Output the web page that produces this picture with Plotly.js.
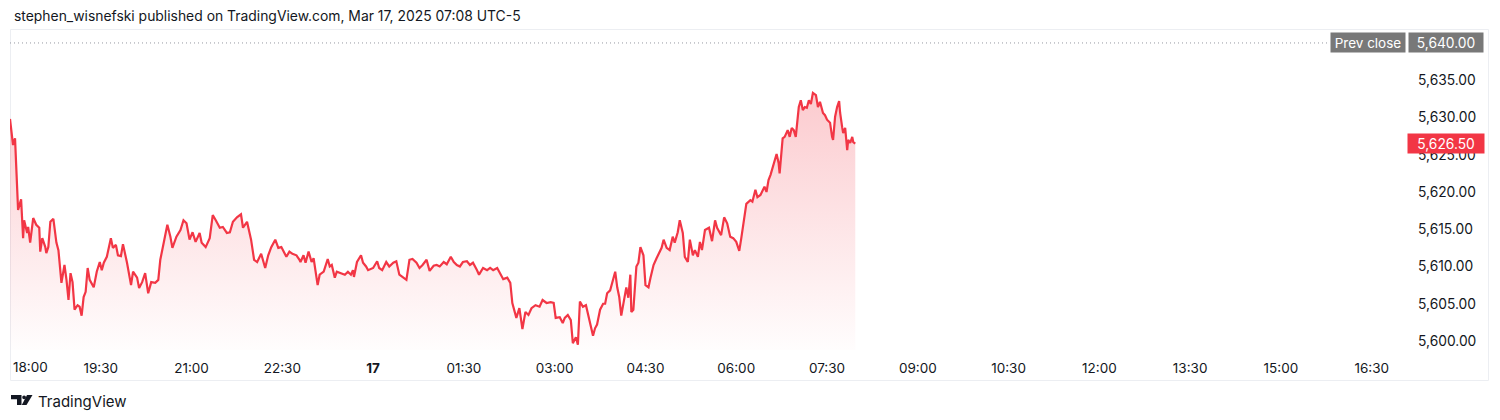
<!DOCTYPE html>
<html>
<head>
<meta charset="utf-8">
<script src="https://cdn.plot.ly/plotly-3.0.1.min.js"></script>
<style>
  html, body { margin: 0; padding: 0; background: #ffffff; }
  #chart { width: 1500px; height: 420px; }
</style>
</head>
<body>
<div id="chart"></div>
<script>
// ---- Data ----
const times = [
  "18:00","18:03","18:05","18:07","18:08","18:11","18:13","18:14","18:17","18:18",
  "18:20","18:23","18:26","18:29","18:30","18:32","18:35","18:36","18:38","18:40",
  "18:43","18:46","18:48","18:51","18:54","18:56","18:58","19:00","19:02","19:04",
  "19:07","19:09","19:11","19:13","19:15","19:17","19:19","19:23","19:26","19:29",
  "19:31","19:33","19:36","19:40","19:42","19:45","19:47","19:50","19:52","19:56",
  "20:00","20:02","20:06","20:08","20:11","20:14","20:17","20:20","20:24","20:27",
  "20:29","20:33","20:36","20:39","20:41","20:45","20:49","20:52","20:55","20:58",
  "21:01","21:04","21:08","21:10","21:14","21:18","21:21","21:24","21:28","21:31",
  "21:35","21:38","21:41","21:45","21:49","21:51","21:55","21:59","22:02","22:05",
  "22:09","22:13","22:16","22:19","22:23","22:26","22:29","22:34","22:37","22:40",
  "22:44","22:47","22:48","22:51","22:53","22:56","22:59","23:01","23:05","23:07",
  "23:11","23:15","23:17","23:19","23:22","23:24","23:29","23:32","23:35","23:38",
  "23:40","23:41","23:44","23:48","23:50","23:53","23:55","00:00","00:04","00:06",
  "00:09","00:13","00:16","00:20","00:23","00:26","00:29","00:33","00:36","00:39",
  "00:43","00:46","00:49","00:53","00:56","01:00","01:03","01:06","01:10","01:13",
  "01:17","01:20","01:23","01:26","01:29","01:33","01:36","01:39","01:43","01:45",
  "01:49","01:53","01:56","01:59","02:03","02:06","02:09","02:13","02:16","02:18",
  "02:22","02:25","02:28","02:31","02:34","02:37","02:41","02:45","02:48","02:52",
  "02:56","02:59","03:01","03:05","03:08","03:10","03:13","03:16","03:18","03:21",
  "03:23","03:25","03:28","03:31","03:33","03:36","03:38","03:40","03:42","03:45",
  "03:48","03:50","03:52","03:55","03:58","04:00","04:02","04:04","04:06","04:09",
  "04:11","04:13","04:15","04:16","04:18","04:21","04:23","04:25","04:28","04:30",
  "04:33","04:35","04:38","04:41","04:44","04:46","04:48","04:51","04:54","04:57",
  "04:59","05:02","05:04","05:07","05:09","05:12","05:14","05:17","05:19","05:22",
  "05:24","05:26","05:29","05:33","05:36","05:39","05:41","05:45","05:48","05:51",
  "05:54","05:57","06:00","06:03","06:05","06:08","06:10","06:14","06:16","06:19",
  "06:21","06:24","06:28","06:30","06:32","06:34","06:36","06:38","06:40","06:42",
  "06:43","06:46","06:48","06:51","06:53","06:55","06:57","06:59","07:02","07:04",
  "07:06","07:08","07:10","07:12","07:14","07:16","07:19","07:21","07:23","07:26",
  "07:28","07:30","07:33","07:35","07:36","07:38","07:40","07:42","07:43","07:45",
  "07:46","07:48","07:50","07:51","07:53","07:55","07:56","07:58"
];
const prices = [
  5629.8,5626.3,5627.2,5621.2,5617.6,5619.0,5613.8,5616.2,5614.5,5615.3,
  5613.2,5616.5,5615.6,5615.2,5612.0,5613.8,5612.6,5611.8,5612.6,5616.0,
  5616.4,5613.2,5612.2,5607.8,5610.2,5608.2,5605.5,5609.1,5607.9,5604.2,
  5604.8,5604.6,5603.4,5605.9,5606.6,5609.8,5608.2,5607.2,5609.3,5610.6,
  5609.5,5610.5,5611.3,5613.8,5612.5,5612.9,5611.5,5611.4,5613.0,5610.5,
  5607.5,5609.3,5608.5,5607.1,5607.9,5609.1,5606.4,5607.9,5607.8,5608.2,
  5610.9,5613.6,5615.6,5614.0,5612.5,5614.0,5614.9,5616.2,5615.8,5613.6,
  5614.6,5613.3,5614.5,5613.2,5612.6,5613.8,5616.9,5616.2,5615.2,5615.3,
  5614.5,5614.6,5616.0,5616.6,5617.0,5615.2,5616.0,5613.6,5610.9,5610.6,
  5611.7,5609.8,5611.5,5612.6,5613.6,5612.5,5612.6,5611.3,5612.0,5611.7,
  5611.5,5610.9,5610.6,5611.5,5610.5,5612.0,5610.6,5611.1,5607.5,5608.9,
  5609.3,5611.0,5610.0,5610.2,5608.5,5609.3,5609.1,5608.9,5609.3,5608.9,
  5609.5,5608.6,5610.6,5611.5,5610.5,5610.0,5609.5,5609.8,5610.7,5609.8,
  5609.5,5610.6,5610.0,5610.5,5610.7,5608.9,5608.6,5608.2,5610.9,5611.0,
  5610.5,5609.8,5610.2,5610.9,5609.4,5610.1,5610.2,5610.0,5610.6,5610.3,
  5611.3,5610.6,5610.2,5610.0,5610.6,5610.7,5610.2,5610.5,5609.5,5608.9,
  5609.8,5609.5,5609.8,5609.5,5609.8,5609.1,5608.3,5608.5,5607.8,5605.1,
  5603.1,5604.4,5601.6,5603.9,5603.5,5604.4,5604.8,5604.6,5605.5,5605.1,
  5605.2,5605.1,5603.1,5603.2,5602.4,5603.1,5603.5,5602.8,5599.7,5600.5,
  5599.5,5605.3,5604.6,5604.8,5603.5,5601.7,5600.7,5601.7,5602.2,5604.2,
  5605.0,5605.0,5606.4,5606.8,5608.2,5609.3,5607.2,5605.9,5603.4,5605.9,
  5607.2,5605.8,5608.9,5603.9,5604.2,5610.0,5610.5,5612.6,5611.5,5607.5,
  5607.2,5608.5,5610.2,5611.1,5612.0,5612.5,5613.6,5612.5,5612.2,5614.0,
  5613.2,5614.6,5616.2,5614.5,5611.3,5610.6,5613.6,5611.5,5612.2,5611.3,
  5613.3,5612.2,5614.9,5615.2,5613.4,5616.2,5615.2,5614.2,5616.6,5615.8,
  5614.0,5613.8,5613.3,5612.1,5613.8,5616.9,5618.4,5618.9,5618.7,5620.3,
  5619.3,5619.6,5620.7,5620.0,5621.6,5622.3,5623.2,5624.0,5625.1,5623.9,
  5622.5,5627.2,5627.4,5628.3,5627.4,5628.6,5628.3,5627.4,5631.4,5632.3,
  5631.0,5631.4,5631.3,5632.3,5631.8,5633.3,5633.0,5631.4,5632.1,5630.6,
  5630.3,5629.7,5629.3,5627.4,5627.0,5630.1,5631.4,5632.2,5630.6,5628.7,
  5627.9,5628.6,5625.6,5627.0,5626.6,5627.4,5626.7,5626.5
];
const prevClose = 5640.00;
const sessionDay1 = "2025-03-16";
const sessionDay2 = "2025-03-17";
const xTickTimes = ["19:30","21:00","22:30","00:00","01:30","03:00","04:30","06:00","07:30","09:00","10:30","12:00","13:30","15:00","16:30"];
const xTickLabels = ["19:30","21:00","22:30","<b>17</b>","01:30","03:00","04:30","06:00","07:30","09:00","10:30","12:00","13:30","15:00","16:30"];
const yTickValues = [5600, 5605, 5610, 5615, 5620, 5625, 5630, 5635, 5640];
const headerText = "stephen_wisnefski published on TradingView.com, Mar 17, 2025 07:08 UTC-5";

// ---- helpers ----
function toDate(hm) {
  const h = parseInt(hm.slice(0, 2), 10);
  return (h >= 18 ? sessionDay1 : sessionDay2) + " " + hm;
}
const xDates = times.map(toDate);
const lastPrice = prices[prices.length - 1];
const fmt = v => v.toLocaleString("en-US", {minimumFractionDigits: 2, maximumFractionDigits: 2});

// layout geometry (pixels -> paper)
const W = 1500, H = 420;
const M = {l: 10, r: 95, t: 30, b: 70};
const PW = W - M.l - M.r, PH = H - M.t - M.b;
const px = x => (x - M.l) / PW;
const py = y => (H - M.b - y) / PH;

const RED = "#f23645";
const TXT = "#131722";
const FONT = "Inter, 'Noto Sans', Roboto, sans-serif";

const trace = {
  x: xDates,
  y: prices,
  type: "scatter",
  mode: "lines",
  line: {color: RED, width: 2.2},
  fill: "tozeroy",
  fillgradient: {
    type: "vertical",
    start: 5598.8,
    stop: Math.max.apply(null, prices),
    colorscale: [[0, "rgba(242,54,69,0.01)"], [1, "rgba(242,54,69,0.26)"]]
  },
  hoverinfo: "skip"
};

const layout = {
  width: W, height: H,
  margin: M,
  paper_bgcolor: "#ffffff",
  plot_bgcolor: "#ffffff",
  showlegend: false,
  font: {family: FONT, size: 13.5, color: TXT},
  xaxis: {
    type: "date",
    range: [sessionDay1 + " 18:00", sessionDay2 + " 17:03"],
    tickvals: xTickTimes.map(toDate),
    ticktext: xTickLabels,
    showgrid: false, zeroline: false, showline: false,
    ticks: "", ticklabelstandoff: 8,
    tickfont: {family: FONT, size: 13.5, color: TXT},
    fixedrange: true
  },
  yaxis: {
    side: "right",
    range: [5598.79, 5641.74],
    tickvals: yTickValues,
    ticktext: yTickValues.map(fmt),
    showgrid: false, zeroline: false, showline: false,
    ticks: "", ticklabelstandoff: 12,
    tickfont: {family: FONT, size: 13.8, color: TXT},
    fixedrange: true
  },
  shapes: [
    // chart frame
    {type: "rect", xref: "paper", yref: "paper",
     x0: px(10.5), x1: px(1488.5), y0: py(380.5), y1: py(29.5),
     line: {color: "#eceef2", width: 1}, layer: "below"},
    // previous close dotted line
    {type: "line", xref: "paper", yref: "y",
     x0: 0, x1: px(1328), y0: prevClose, y1: prevClose,
     line: {color: "#9598a1", width: 1, dash: "1px,3px"}},
    // TradingView logo
    {type: "path", xref: "paper", yref: "paper",
     path: `M ${px(11)} ${py(395)} L ${px(21.5)} ${py(395)} L ${px(21.5)} ${py(405)} L ${px(17)} ${py(405)} L ${px(17)} ${py(399.3)} L ${px(11)} ${py(399.3)} Z`,
     fillcolor: TXT, line: {width: 0}},
    {type: "circle", xref: "paper", yref: "paper",
     x0: px(22.2), x1: px(26), y0: py(399.2), y1: py(395.4),
     fillcolor: TXT, line: {width: 0}},
    {type: "path", xref: "paper", yref: "paper",
     path: `M ${px(27)} ${py(395)} L ${px(32.5)} ${py(395)} L ${px(26.5)} ${py(405)} L ${px(21.8)} ${py(405)} Z`,
     fillcolor: TXT, line: {width: 0}}
  ],
  annotations: [
    {text: headerText, xref: "paper", yref: "paper", x: px(12), y: py(16),
     xanchor: "left", yanchor: "middle", showarrow: false,
     font: {family: FONT, size: 13.9, color: TXT}},
    {text: "TradingView", xref: "paper", yref: "paper", x: px(36), y: py(401),
     xanchor: "left", yanchor: "middle", showarrow: false,
     font: {family: FONT, size: 15, color: TXT}},
    {text: "18:00", xref: "paper", yref: "paper", x: px(11), y: py(367),
     xanchor: "left", yanchor: "middle", showarrow: false,
     font: {family: FONT, size: 13.5, color: TXT}},
    {text: "Prev close", xref: "paper", yref: "y", x: px(1368), y: prevClose,
     xanchor: "center", yanchor: "middle", showarrow: false,
     width: 72, height: 17, borderpad: 1, bgcolor: "#787878",
     font: {family: FONT, size: 13.5, color: "#ffffff"}},
    {text: fmt(prevClose), xref: "paper", yref: "y", x: px(1445.5), y: prevClose,
     xanchor: "center", yanchor: "middle", showarrow: false,
     width: 72, height: 17, borderpad: 1, bgcolor: "#787878",
     font: {family: FONT, size: 13.8, color: "#ffffff"}},
    {text: fmt(lastPrice), xref: "paper", yref: "y", x: px(1446), y: lastPrice,
     xanchor: "center", yanchor: "middle", showarrow: false,
     width: 74, height: 17, borderpad: 1, bgcolor: RED,
     font: {family: FONT, size: 13.8, color: "#ffffff"}}
  ]
};

Plotly.newPlot("chart", [trace], layout, {displayModeBar: false, staticPlot: true});
</script>
</body>
</html>
